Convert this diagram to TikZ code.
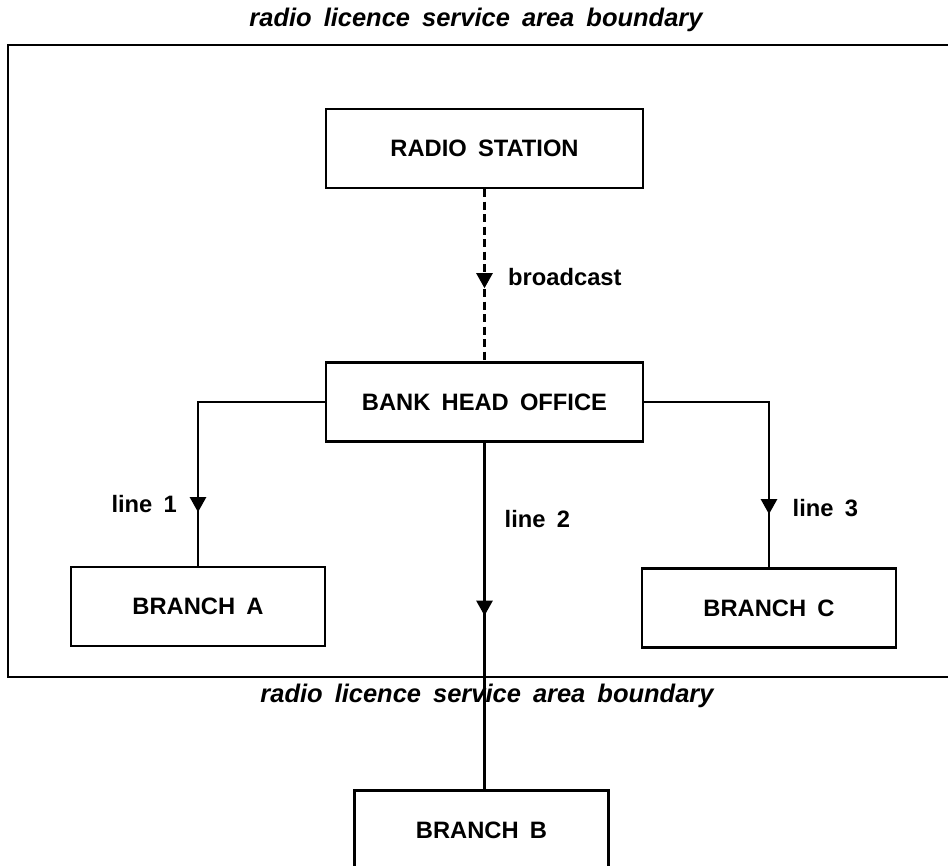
\documentclass[tikz,border=0pt]{standalone}
\usepackage{fontspec}
\setmainfont{Liberation Sans}[WordSpace=1.7]
\usetikzlibrary{arrows.meta,decorations.markings}

\begin{document}
\begin{tikzpicture}[x=0.02cm, y=-0.02cm, line width=1.4pt, box/.style={rectangle, draw=black, line width=1.4pt, minimum width=#1, minimum height=1.58cm, node font=\fontsize{13.5}{16}\selectfont\bfseries, align=center}, box/.default=6.34cm, lbl/.style={pos=#1, inner sep=0, node font=\fontsize{13.5}{16}\selectfont\bfseries}, edgelbl/.style={inner sep=0, node font=\fontsize{14.5}{17}\selectfont\bfseries\itshape}, tipat/.style={postaction={decorate}, decoration={markings, mark=at position #1 with {\arrow{Triangle[length=0.3cm, width=0.32cm]}}}}]

\useasboundingbox (0,0) rectangle (948,866);

% service area boundary
\draw (948,45) -| (8,677) -- (948,677);
\node [edgelbl] (TOPB) at (476,20) {radio licence service area boundary};
\node [edgelbl] (BOTB) at (487,696) {radio licence service area boundary};

\node [box] (RS) at (484.5,148.5) {RADIO STATION};
\node [box] (BHO) at (484.5,402) {BANK HEAD OFFICE};
\node [box=5.08cm] (BRA) at (198,606.5) {BRANCH A};
\node [box=5.08cm] (BRB) at (481.5,830) {BRANCH B};
\node [box=5.08cm] (BRC) at (769,608) {BRANCH C};

\draw [dash pattern=on 0.16cm off 0.09cm, tipat=1.98cm] (RS) -- (BHO) node [lbl=0.51, right=0.45cm] {broadcast};
\draw [tipat=4.74cm] (BHO.west) -| (BRA.north) node [lbl=0.81, left=0.4cm] {line 1};
\draw [tipat=3.46cm] (BHO.south) -- (BHO.south |- BRB.north) node [lbl=0.22, right=0.38cm] {line 2};
\draw [tipat=4.74cm] (BHO.east) -| (BRC.north) node [lbl=0.82, right=0.45cm] {line 3};

\end{tikzpicture}
\end{document}
